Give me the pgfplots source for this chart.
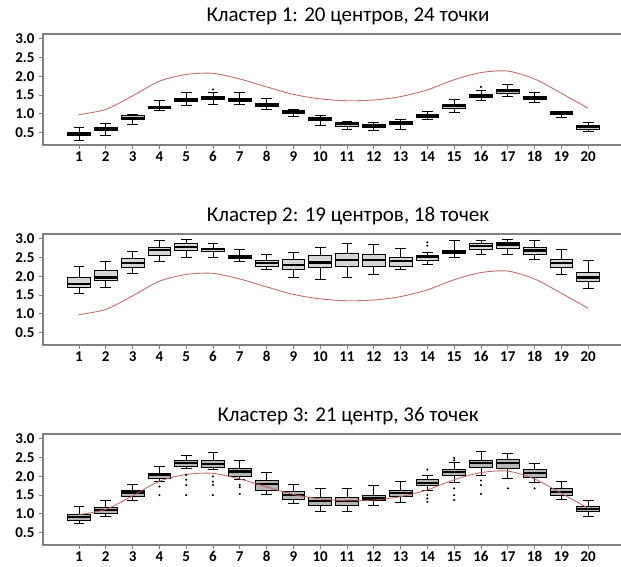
\documentclass[border=0pt]{standalone}
\usepackage{pgfplots}
\pgfplotsset{compat=1.18}
\usepgfplotslibrary{statistics}
\usepackage{fontspec}
\setmainfont{Carlito}
\definecolor{refline}{rgb}{0.72,0.38,0.38}
\definecolor{frame}{rgb}{0.5,0.5,0.5}
\pgfplotsset{
  panel/.style={
    scale only axis, width=610pt, height=111pt,
    xmin=-0.343, xmax=22.42, ymin=0.17, ymax=3.13,
    xtick={1,...,20}, ytick={0.5,1.0,1.5,2.0,2.5,3.0},
    /pgf/number format/assume math mode=true,
    yticklabel style={/pgf/number format/fixed,/pgf/number format/fixed zerofill,/pgf/number format/precision=1},
    tick label style={font=\fontsize{15}{16}\selectfont\bfseries, text=black},
    tick align=outside, major tick length=4pt,
    tick style={frame, line width=0.8pt},
    axis line style={frame, line width=1.2pt},
    xtick pos=bottom, ytick pos=left,
    xticklabel style={yshift=1pt},
    yticklabel style={xshift=-1pt},
    title style={at={(0.5,1)}, anchor=base, yshift=6pt, font=\fontsize{21}{23}\selectfont},
    clip=false,
    boxplot/draw direction=y,
    boxplot/box extend=0.85,
    boxplot/whisker extend=0.4,
  },
  bfill/.style={fill=gray!45},
  bxs/.style={draw=black, bfill, line width=0.6pt, solid, mark=*, mark size=0.7pt, mark options={fill=black, draw=black},
    boxplot/every median/.style={line width=2.2pt, black}},
}
\newcommand{\bx}[7]{\addplot[bxs, boxplot prepared={draw position=#1, lower whisker=#2, lower quartile=#3, median=#4, upper quartile=#5, upper whisker=#6}] coordinates {#7};}
\newcommand{\refcurve}{\addplot[refline, line width=0.9pt, smooth, opacity=0.9] coordinates {
 (1,0.98) (2,1.12) (3,1.48) (4,1.87) (5,2.05) (6,2.08) (7,1.93) (8,1.72) (9,1.52) (10,1.40)
 (11,1.35) (12,1.37) (13,1.46) (14,1.64) (15,1.91) (16,2.10) (17,2.14) (18,1.93) (19,1.55) (20,1.15)};}
\begin{document}
\begin{tikzpicture}
\path[use as bounding box] (0pt,0pt) rectangle (621pt,567pt);
% Panel 1
\begin{axis}[panel, at={(43pt,422pt)}, anchor=south west, title={Кластер 1: 20 центров, 24 точки}, bfill/.style={fill=gray!45}]
\refcurve
\bx{1}{0.30}{0.42}{0.47}{0.52}{0.65}{}
\bx{2}{0.42}{0.55}{0.60}{0.65}{0.75}{}
\bx{3}{0.72}{0.85}{0.90}{0.95}{0.98}{}
\bx{4}{1.10}{1.14}{1.18}{1.21}{1.35}{}
\bx{5}{1.23}{1.33}{1.37}{1.42}{1.57}{}
\bx{6}{1.25}{1.38}{1.42}{1.46}{1.58}{(0,1.65)}
\bx{7}{1.25}{1.34}{1.38}{1.42}{1.57}{}
\bx{8}{1.12}{1.19}{1.23}{1.27}{1.42}{}
\bx{9}{0.93}{1.01}{1.05}{1.09}{1.13}{}
\bx{10}{0.70}{0.82}{0.87}{0.92}{0.95}{}
\bx{11}{0.58}{0.67}{0.72}{0.77}{0.80}{}
\bx{12}{0.55}{0.63}{0.68}{0.73}{0.78}{}
\bx{13}{0.58}{0.72}{0.76}{0.80}{0.85}{}
\bx{14}{0.85}{0.90}{0.95}{1.00}{1.08}{}
\bx{15}{1.05}{1.15}{1.20}{1.25}{1.40}{}
\bx{16}{1.35}{1.44}{1.48}{1.52}{1.62}{(0,1.72)}
\bx{17}{1.47}{1.55}{1.60}{1.65}{1.78}{}
\bx{18}{1.30}{1.38}{1.43}{1.48}{1.57}{}
\bx{19}{0.92}{0.98}{1.03}{1.08}{1.08}{}
\bx{20}{0.53}{0.60}{0.65}{0.70}{0.78}{}
\end{axis}
% Panel 2
\begin{axis}[panel, at={(43pt,222pt)}, anchor=south west, title={Кластер 2: 19 центров, 18 точек}, bfill/.style={fill=gray!32}]
\refcurve
\bx{1}{1.55}{1.70}{1.79}{1.97}{2.26}{}
\bx{2}{1.70}{1.90}{1.97}{2.15}{2.39}{}
\bx{3}{2.08}{2.24}{2.35}{2.49}{2.67}{}
\bx{4}{2.39}{2.57}{2.70}{2.78}{2.96}{}
\bx{5}{2.51}{2.69}{2.78}{2.87}{3.00}{}
\bx{6}{2.51}{2.67}{2.72}{2.76}{2.88}{}
\bx{7}{2.40}{2.48}{2.53}{2.57}{2.73}{}
\bx{8}{2.19}{2.28}{2.35}{2.42}{2.58}{}
\bx{9}{1.97}{2.19}{2.31}{2.46}{2.63}{}
\bx{10}{1.92}{2.24}{2.37}{2.55}{2.78}{}
\bx{11}{1.97}{2.26}{2.44}{2.61}{2.87}{}
\bx{12}{2.06}{2.26}{2.44}{2.58}{2.85}{}
\bx{13}{2.19}{2.28}{2.40}{2.51}{2.76}{}
\bx{14}{2.33}{2.44}{2.51}{2.55}{2.64}{(0,2.82) (0,2.91)}
\bx{15}{2.51}{2.61}{2.66}{2.70}{2.96}{}
\bx{16}{2.60}{2.73}{2.81}{2.88}{2.97}{}
\bx{17}{2.60}{2.76}{2.85}{2.91}{3.00}{}
\bx{18}{2.46}{2.58}{2.69}{2.78}{2.97}{}
\bx{19}{2.06}{2.24}{2.35}{2.46}{2.73}{}
\bx{20}{1.68}{1.86}{1.97}{2.10}{2.44}{}
\end{axis}
% Panel 3
\begin{axis}[panel, at={(43pt,22pt)}, anchor=south west, title={Кластер 3: 21 центр, 36 точек}, bfill/.style={fill=gray!58}]
\bx{1}{0.74}{0.83}{0.92}{0.99}{1.19}{}
\bx{2}{0.94}{1.01}{1.10}{1.17}{1.37}{}
\bx{3}{1.35}{1.46}{1.57}{1.64}{1.79}{}
\bx{4}{1.86}{1.95}{2.04}{2.09}{2.28}{(0,1.73) (0,1.50)}
\bx{5}{2.22}{2.27}{2.35}{2.43}{2.55}{(0,2.04) (0,1.91) (0,1.77) (0,1.50)}
\bx{6}{2.18}{2.25}{2.34}{2.44}{2.64}{(0,2.00) (0,1.86) (0,1.77) (0,1.50)}
\bx{7}{1.92}{2.00}{2.13}{2.22}{2.43}{(0,1.77) (0,1.71) (0,1.53)}
\bx{8}{1.53}{1.64}{1.80}{1.89}{2.10}{}
\bx{9}{1.28}{1.39}{1.50}{1.59}{1.79}{}
\bx{10}{1.08}{1.23}{1.35}{1.44}{1.68}{}
\bx{11}{1.06}{1.23}{1.35}{1.44}{1.68}{}
\bx{12}{1.23}{1.35}{1.41}{1.50}{1.75}{}
\bx{13}{1.30}{1.48}{1.55}{1.64}{1.86}{}
\bx{14}{1.64}{1.75}{1.82}{1.91}{2.04}{(0,2.18) (0,1.50) (0,1.41) (0,1.32)}
\bx{15}{1.84}{2.04}{2.12}{2.18}{2.37}{(0,2.43) (0,2.49) (0,1.68) (0,1.50) (0,1.37)}
\bx{16}{2.04}{2.25}{2.35}{2.43}{2.67}{(0,1.89) (0,1.77) (0,1.53)}
\bx{17}{1.95}{2.22}{2.35}{2.46}{2.62}{(0,1.68)}
\bx{18}{1.84}{1.98}{2.09}{2.18}{2.34}{(0,1.68)}
\bx{19}{1.39}{1.50}{1.59}{1.68}{1.86}{}
\bx{20}{0.94}{1.08}{1.14}{1.19}{1.37}{}
\refcurve
\end{axis}
\end{tikzpicture}
\end{document}
